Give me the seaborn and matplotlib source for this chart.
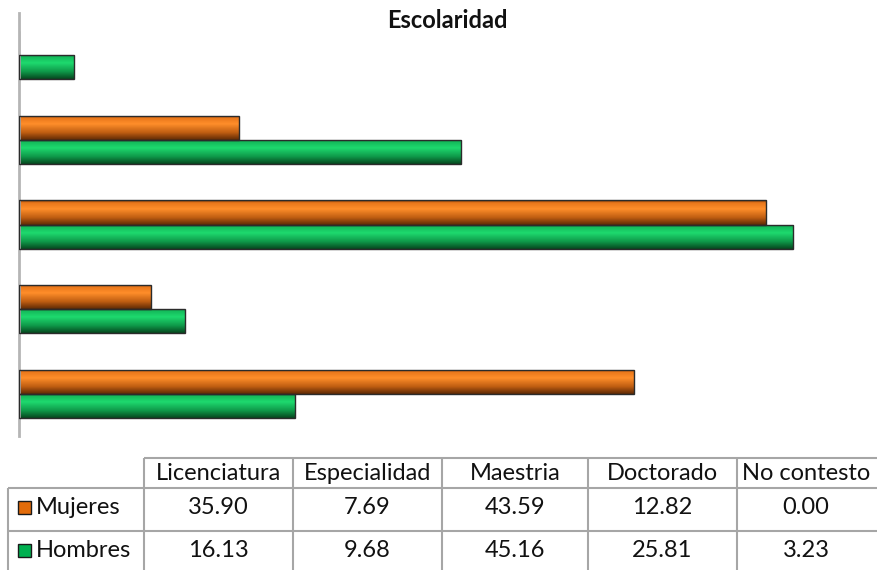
import numpy as np
import pandas as pd
import matplotlib
matplotlib.use("Agg")
import matplotlib.pyplot as plt
from matplotlib.colors import LinearSegmentedColormap
import seaborn as sns

# Datos (orden de la tabla)
columnas = ["Licenciatura", "Especialidad", "Maestria", "Doctorado", "No contesto"]
series = ["Mujeres", "Hombres"]
mujeres = [35.90, 7.69, 43.59, 12.82, 0.00]
hombres = [16.13, 9.68, 45.16, 25.81, 3.23]

colores = {"Mujeres": "#ED7D1E", "Hombres": "#17C460"}
colores_leyenda = {"Mujeres": "#E36C0A", "Hombres": "#00B050"}

sns.set_style("white")
plt.rcParams["font.family"] = ["Lato", "DejaVu Sans"]

df = pd.DataFrame({
    "categoria": columnas * 2,
    "valor": mujeres + hombres,
    "serie": ["Mujeres"] * len(columnas) + ["Hombres"] * len(columnas),
})

fig = plt.figure(figsize=(8.77, 5.70), dpi=100)
ax = fig.add_axes([19 / 877, 1 - 436 / 570, 857 / 877, 423 / 570])

orden = columnas[::-1]
sns.barplot(data=df, y="categoria", x="valor", hue="serie", order=orden,
            hue_order=series, palette=colores, width=0.57, orient="h",
            edgecolor="#2b2b2b", linewidth=1.0, legend=False, ax=ax)

# efecto de relieve (degradado vertical) en cada barra
grad = np.linspace(0, 1, 64).reshape(-1, 1)
mapas = {
    "Mujeres": LinearSegmentedColormap.from_list(
        "m", [(0, "#7A3806"), (0.1, "#E9761A"), (0.35, "#FF8E2A"),
              (0.7, "#C05E12"), (1, "#5E2A05")]),
    "Hombres": LinearSegmentedColormap.from_list(
        "h", [(0, "#0A5E2A"), (0.1, "#14B95A"), (0.35, "#1ED96E"),
              (0.7, "#0F9A4A"), (1, "#06481F")]),
}
n = len(orden)
for i, p in enumerate(ax.patches):
    w = p.get_width()
    if w <= 0:
        continue
    serie = series[0] if i < n else series[1]
    x0, y0, h = p.get_x(), p.get_y(), p.get_height()
    im = ax.imshow(grad, cmap=mapas[serie], aspect="auto",
                   extent=(x0, x0 + w, y0 + h, y0), zorder=2)
    im.set_clip_path(p)
    p.set_facecolor("none")
    p.set_zorder(3)

ax.set_xlim(0, 50)
ax.set_ylim(n - 0.5, -0.5)
ax.set_xlabel("")
ax.set_ylabel("")
ax.set_xticks([])
ax.set_yticks([])
for s in ["top", "right", "bottom"]:
    ax.spines[s].set_visible(False)
ax.spines["left"].set_color("#b5b5b5")
ax.spines["left"].set_linewidth(2)

fig.text(447 / 877, 1 - 20 / 570, "Escolaridad", ha="center", va="center",
         fontsize=17, fontweight="bold", color="#111111")

# Tabla de datos
tax = fig.add_axes([0, 0, 1, 1])
tax.set_xlim(0, 877)
tax.set_ylim(570, 0)
tax.axis("off")

bordes_x = [8, 144, 293, 442, 588, 737, 875]
bordes_y = [458, 488, 531, 574]
gris = "#a6a6a6"
tax.hlines(bordes_y[0], bordes_x[1], 877, color=gris, lw=1.5)
for y in bordes_y[1:]:
    tax.hlines(y, bordes_x[0], 877, color=gris, lw=1.5)
tax.vlines(bordes_x[0], bordes_y[1], bordes_y[-1], color=gris, lw=1.5)
for x in bordes_x[1:-1]:
    tax.vlines(x, bordes_y[0], bordes_y[-1], color=gris, lw=1.5)

fs = 17
for j, col in enumerate(columnas):
    xc = (bordes_x[j + 1] + bordes_x[j + 2]) / 2
    tax.text(xc, (bordes_y[0] + bordes_y[1]) / 2, col, ha="center",
             va="center", fontsize=fs, color="#111111")
    for r, vals in enumerate([mujeres, hombres]):
        tax.text(xc, (bordes_y[r + 1] + bordes_y[r + 2]) / 2 - 2,
                 f"{vals[j]:.2f}", ha="center", va="center", fontsize=fs,
                 color="#111111")

for r, s in enumerate(series):
    yc = (bordes_y[r + 1] + bordes_y[r + 2]) / 2 - 2
    tax.add_patch(plt.Rectangle((18, yc - 7), 13, 13, facecolor=colores_leyenda[s],
                                edgecolor="#1a1a1a", lw=1))
    tax.text(36, yc, s, ha="left", va="center", fontsize=fs, color="#111111")

fig.savefig("out.png", dpi=100)
